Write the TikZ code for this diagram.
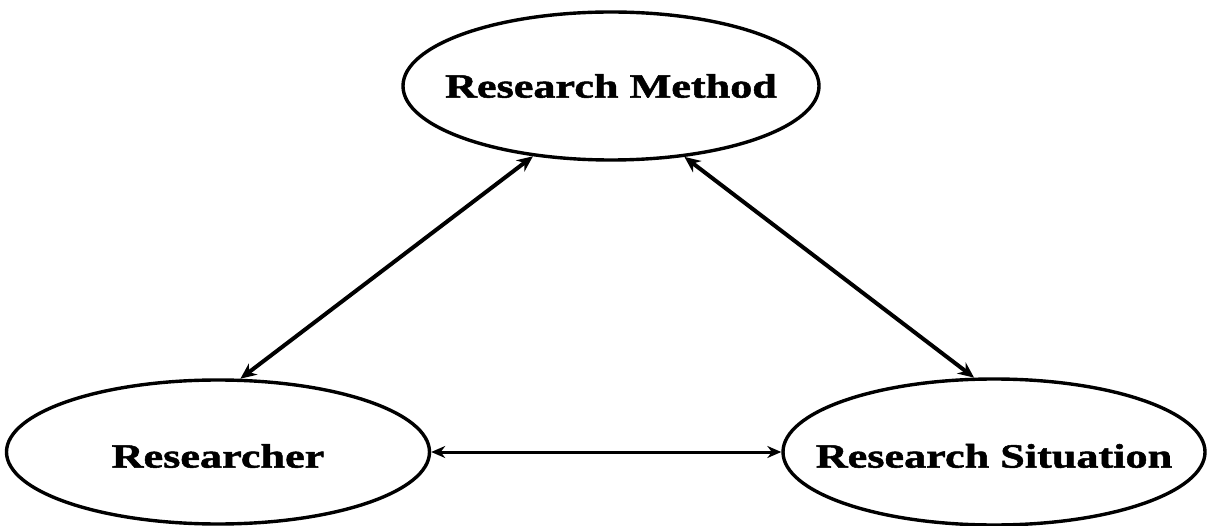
\documentclass[tikz,border=0pt]{standalone}
\usepackage{fontspec}
\usetikzlibrary{shapes.geometric,arrows.meta}
\newfontfamily\lblfont[FakeStretch=1.3,FakeBold=1.5]{Liberation Serif}
\tikzset{
  concept/.style={ellipse, draw, line width=3.4pt, inner sep=0pt},
  conceptlabel/.style={font=\lblfont\bfseries\fontsize{34}{34}\selectfont},
  link/.style={line width=4pt,
    {Stealth[length=16pt,width=14pt]}-{Stealth[length=16pt,width=14pt]}},
  hlink/.style={line width=3pt,
    {Stealth[length=14pt,width=12pt]}-{Stealth[length=14pt,width=12pt]}}
}
\begin{document}
\begin{tikzpicture}[x=1pt,y=-1pt]
  \useasboundingbox (0,0) rectangle (1207,526);
  \node[concept, minimum width=416pt, minimum height=148pt,
        label={[conceptlabel]center:Research Method}] (method) at (611,86) {};
  \node[concept, minimum width=423pt, minimum height=144pt,
        label={[conceptlabel, yshift=-4pt]center:Researcher}] (researcher) at (218,452) {};
  \node[concept, minimum width=422pt, minimum height=146pt,
        label={[conceptlabel, yshift=-4pt]center:Research Situation}] (situation) at (994,452) {};
  \draw[link] (researcher.73) -- (method.222);
  \draw[link] (method.316) -- (situation.105);
  \draw[hlink] (researcher.east) -- (situation.west);
\end{tikzpicture}
\end{document}
